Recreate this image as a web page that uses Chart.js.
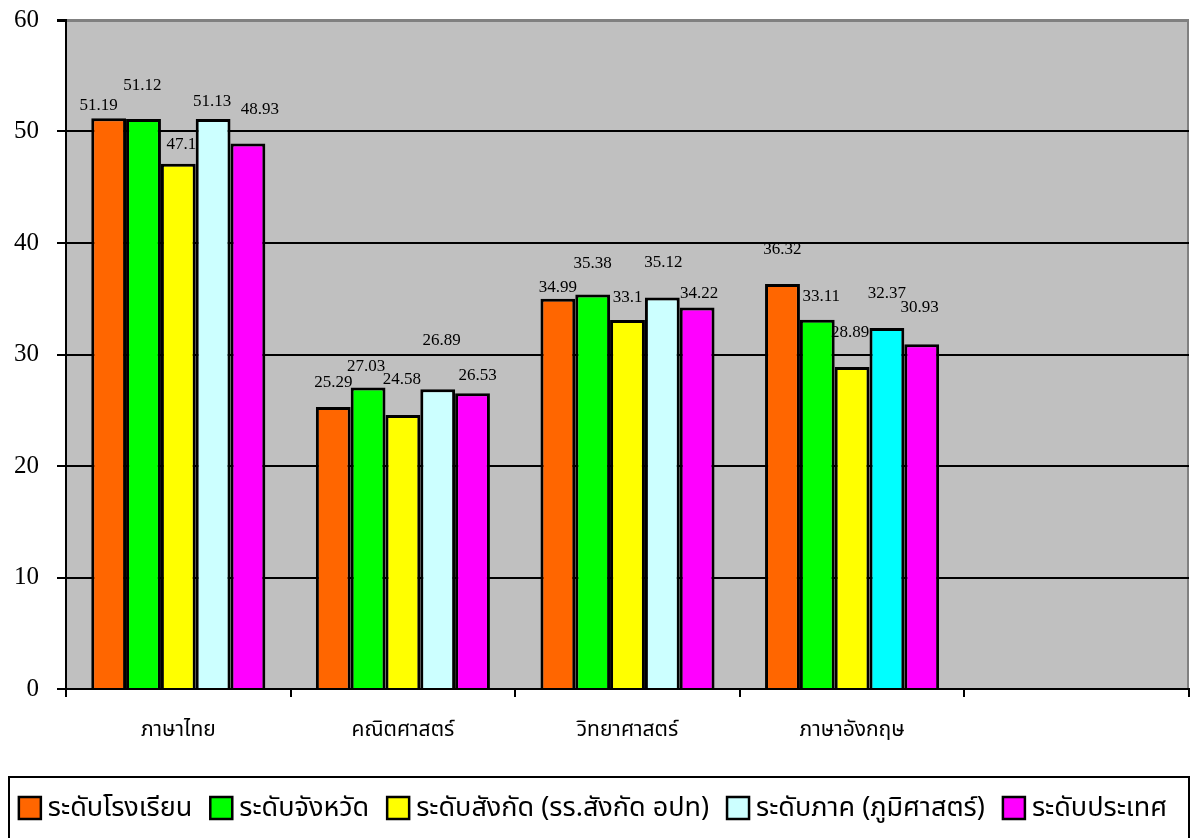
<!DOCTYPE html>
<html>
<head>
<meta charset="utf-8">
<script src="https://cdn.jsdelivr.net/npm/chart.js@4/dist/chart.umd.min.js"></script>
<style>
  html, body { margin: 0; padding: 0; background: #fff; }
  #chart { display: block; }
</style>
</head>
<body>
<canvas id="chart" width="1191" height="838"></canvas>
<script>
// วิชา (categories) - last slot is empty in the original
const subjects = ["ภาษาไทย", "คณิตศาสตร์", "วิทยาศาสตร์", "ภาษาอังกฤษ", ""];

// series
const seriesNames = [
    "ระดับโรงเรียน",
    "ระดับจังหวัด",
    "ระดับสังกัด (รร.สังกัด อปท)",
    "ระดับภาค (ภูมิศาสตร์)",
    "ระดับประเทศ"
];
const schoolScores = [51.19, 25.29, 34.99, 36.32, null];
const provinceScores = [51.12, 27.03, 35.38, 33.11, null];
const affiliationScores = [47.1, 24.58, 33.1, 28.89, null];
const regionScores = [51.13, 26.89, 35.12, 32.37, null];
const nationScores = [48.93, 26.53, 34.22, 30.93, null];

const yTicks = [0, 10, 20, 30, 40, 50, 60];

// label nudges (px) so the value labels sit like the original
const labelNudge = [
    [[-10, -13], [0, -24], [0, -11], [0, -35]],
    [[-1, -33], [-2, -21], [0, -31], [4, -23]],
    [[3, -19], [-1, -35], [0, -22], [-2, -34]],
    [[-1, -17], [4, -49], [1, -35], [0, -35]],
    [[12, -34], [5, -18], [2, -14], [-2, -37]]
];

const THAI = '"Noto Sans Thai", "Noto Sans Thai UI", "Noto Sans", "DejaVu Sans", sans-serif';
const SERIF = '"Liberation Serif", "DejaVu Serif", serif';

// plot background gray + frame
const plotBg = {
    id: 'plotBg',
    beforeDraw(chart) {
        const { ctx, chartArea: a } = chart;
        ctx.save();
        ctx.fillStyle = '#C0C0C0';
        ctx.fillRect(a.left, a.top, a.right - a.left, a.bottom - a.top);
        ctx.strokeStyle = '#808080';
        ctx.lineWidth = 2;
        ctx.beginPath();
        ctx.moveTo(a.right - 1, a.top);
        ctx.lineTo(a.right - 1, a.bottom);
        ctx.stroke();
        ctx.restore();
    }
};

// value labels above bars
const valueLabels = {
    id: 'valueLabels',
    afterDatasetsDraw(chart) {
        const { ctx } = chart;
        ctx.save();
        ctx.font = '17px ' + SERIF;
        ctx.fillStyle = '#000';
        ctx.textAlign = 'center';
        ctx.textBaseline = 'middle';
        chart.data.datasets.forEach((ds, i) => {
            const meta = chart.getDatasetMeta(i);
            meta.data.forEach((bar, j) => {
                const v = ds.data[j];
                if (v == null) return;
                const n = (labelNudge[i] && labelNudge[i][j]) || [0, -12];
                ctx.fillText(String(v), bar.x + n[0], bar.y + n[1]);
            });
        });
        ctx.restore();
    }
};

// boxed legend at the bottom
const boxLegend = {
    id: 'boxLegend',
    afterDraw(chart) {
        const { ctx } = chart;
        const top = 777, left = 9, right = 1189;
        ctx.save();
        ctx.strokeStyle = '#000';
        ctx.lineWidth = 2;
        ctx.strokeRect(left, top, right - left, chart.height - top + 10);

        ctx.font = '27px ' + THAI;
        const box = 22, gapIn = 7, gapOut = 18;
        const items = chart.data.datasets.map(ds => ({
            text: ds.label,
            color: Array.isArray(ds.backgroundColor) ? ds.backgroundColor[0] : ds.backgroundColor,
            w: ctx.measureText(ds.label).width
        }));
        let total = items.reduce((s, it) => s + box + gapIn + it.w, 0) + gapOut * (items.length - 1);
        let x = 593 - total / 2;
        const cy = 808;
        ctx.textBaseline = 'middle';
        ctx.textAlign = 'left';
        items.forEach(it => {
            ctx.fillStyle = it.color;
            ctx.fillRect(x, cy - box / 2, box, box);
            ctx.strokeStyle = '#000';
            ctx.lineWidth = 2.5;
            ctx.strokeRect(x, cy - box / 2, box, box);
            ctx.fillStyle = '#000';
            ctx.fillText(it.text, x + box + gapIn, cy + 3);
            x += box + gapIn + it.w + gapOut;
        });
        ctx.restore();
    }
};

function makeSet(idx, values, color) {
    return {
        label: seriesNames[idx],
        data: values,
        backgroundColor: color,
        borderColor: '#000',
        borderWidth: 3,
        borderSkipped: 'bottom',
        categoryPercentage: 0.775,
        barPercentage: 1.0
    };
}

new Chart(document.getElementById('chart'), {
    type: 'bar',
    data: {
        labels: subjects,
        datasets: [
            makeSet(0, schoolScores, '#FF6600'),
            makeSet(1, provinceScores, '#00FF00'),
            makeSet(2, affiliationScores, '#FFFF00'),
            // English bar of this series is plain cyan in the original
            makeSet(3, regionScores, ['#CCFFFF', '#CCFFFF', '#CCFFFF', '#00FFFF', '#CCFFFF']),
            makeSet(4, nationScores, '#FF00FF')
        ]
    },
    options: {
        responsive: false,
        animation: false,
        devicePixelRatio: 1,
        layout: { padding: { left: 0, top: 20, right: 2, bottom: 89 } },
        plugins: {
            legend: { display: false },
            tooltip: { enabled: false }
        },
        scales: {
            x: {
                grid: {
                    offset: true,
                    drawOnChartArea: false,
                    drawTicks: true,
                    tickLength: 8,
                    color: '#000',
                    lineWidth: 2
                },
                border: { color: '#000', width: 2 },
                ticks: {
                    color: '#000',
                    font: { family: THAI, size: 21 },
                    padding: 22,
                    maxRotation: 0
                },
                afterFit(scale) {
                    scale.height = 60;
                    scale.paddingLeft = 0;
                    scale.paddingRight = 0;
                }
            },
            y: {
                min: 0,
                max: 60,
                afterBuildTicks(scale) { scale.ticks = yTicks.map(v => ({ value: v })); },
                grid: {
                    color: c => (c.tick && c.tick.value === 60 ? '#808080' : '#000'),
                    lineWidth: c => (c.tick && c.tick.value === 60 ? 3 : 2),
                    tickColor: '#000',
                    tickLength: 9
                },
                border: { color: '#000', width: 2 },
                ticks: {
                    color: '#000',
                    font: { family: SERIF, size: 25 },
                    padding: 18
                },
                afterFit(scale) {
                    scale.width = 66;
                    scale.paddingTop = 0;
                    scale.paddingBottom = 0;
                }
            }
        }
    },
    plugins: [plotBg, valueLabels, boxLegend]
});
</script>
</body>
</html>
